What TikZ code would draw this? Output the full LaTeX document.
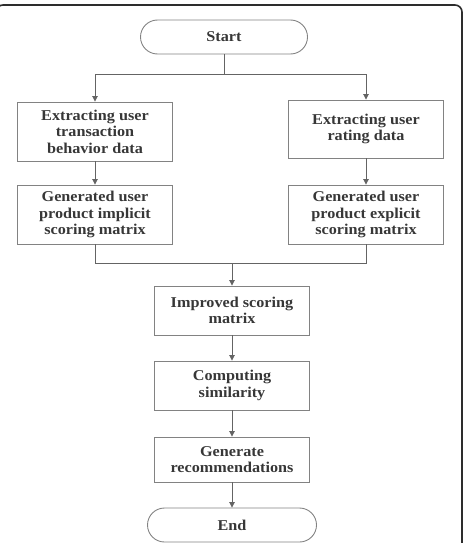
\documentclass[tikz,border=0pt]{standalone}
\usepackage{fontspec}
\setmainfont{Liberation Serif}[FakeStretch=1.08]
\usepackage{tikz}
\usetikzlibrary{positioning,arrows.meta,calc}
\definecolor{inkgrey}{RGB}{55,55,55}
\definecolor{boxgrey}{RGB}{130,130,130}
\definecolor{wiregrey}{RGB}{100,100,100}
\definecolor{framegrey}{RGB}{45,45,45}
\tikzset{
  procbox/.style={draw=boxgrey,line width=0.9pt,text=inkgrey,align=center,
    minimum width=155pt,inner sep=2pt,font=\bfseries\fontsize{15}{16.5}\selectfont},
  termbox/.style={procbox,rounded corners=17pt,minimum height=34pt},
  flow/.style={wiregrey,line width=0.9pt},
  flowarr/.style={flow,-{Triangle[length=5.5pt,width=5.5pt]}}
}

\begin{document}
\begin{tikzpicture}[x=1pt,y=-1pt]
        \useasboundingbox (0,0) rectangle (465,543);
        \begin{scope}\clip (0,0) rectangle (465,543);
        \draw[framegrey,line width=1.6pt,rounded corners=7pt] (-4,5) rectangle (462,620);
        \end{scope}
        % terminals
        \node[termbox,minimum width=167pt] (start) at (224,37) {Start};
        \node[termbox,minimum width=169pt] (finish) at (232,525) {End};
        % left branch
        \node[procbox,minimum height=59pt] (extbehav) at (95,131.5) {Extracting user\\transaction\\behavior data};
        \node[procbox,minimum height=59pt] (genimpl) at (95,214.5) {Generated user\\product implicit\\scoring matrix};
        % right branch
        \node[procbox,minimum height=58pt] (extrate) at (366,129) {Extracting user\\rating data};
        \node[procbox,minimum height=59pt] (genexpl) at (366,214.5) {Generated user\\product explicit\\scoring matrix};
        % main chain
        \node[procbox,minimum height=49pt] (improved) at (232,310.5) {Improved scoring\\matrix};
        \node[procbox,minimum height=49pt] (similar) at (232,385.5) {Computing\\similarity};
        \node[procbox,minimum height=45pt] (recom) at (232,459.5) {Generate\\recommendations};
        \coordinate (fork) at (224,74);
        \coordinate (join) at (232,263);
        \draw[flow] (start) -- (fork);
        \draw[flowarr] (fork) -| (extbehav);
        \draw[flowarr] (fork) -| (extrate);
        \draw[flowarr] (extbehav) -- (genimpl);
        \draw[flowarr] (extrate) -- (genexpl);
        \draw[flow] (genimpl) |- (join);
        \draw[flow] (genexpl) |- (join);
        \draw[flowarr] (join) -- (improved);
        \draw[flowarr] (improved) -- (similar);
        \draw[flowarr] (similar) -- (recom);
        \draw[flowarr] (recom) -- (finish);
      \end{tikzpicture}
\end{document}
